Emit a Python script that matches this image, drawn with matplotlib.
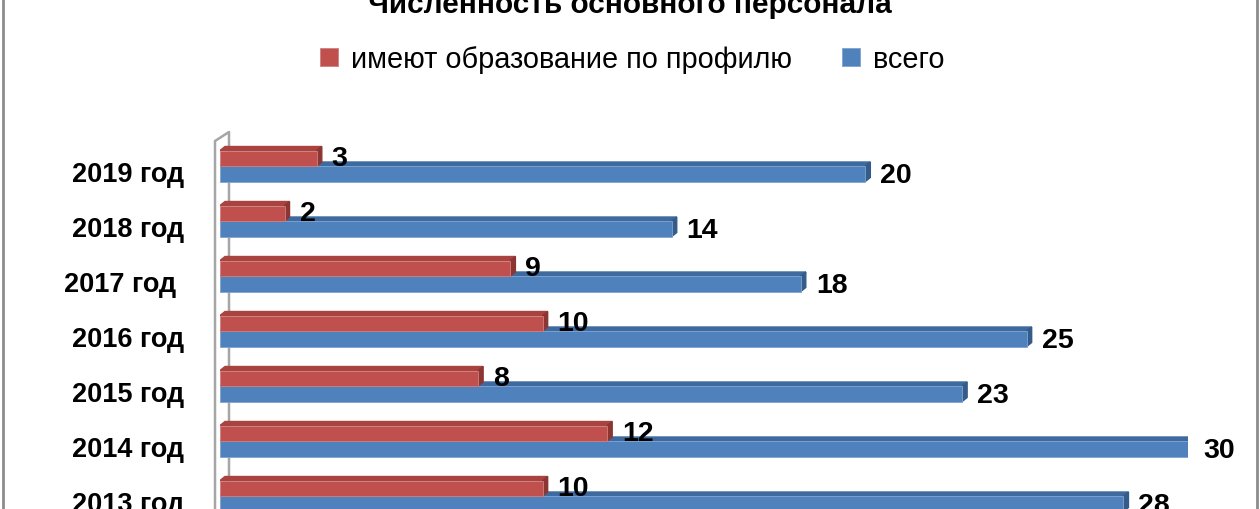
import matplotlib
matplotlib.use('Agg')
import matplotlib.pyplot as plt
from matplotlib.patches import Polygon
from matplotlib.lines import Line2D
import numpy as np

# ---- data ----
years = ['2013 год', '2014 год', '2015 год', '2016 год', '2017 год ', '2018 год', '2019 год']
profile = [10, 12, 8, 10, 9, 2, 3]
total = [28, 30, 23, 25, 18, 14, 20]
series_names = ['имеют образование по профилю', 'всего']
title = 'Численность основного персонала'

# ---- styling ----
W, H = 1260, 510
RED, RED_TOP, RED_SIDE = '#C0504D', '#A9433F', '#8C3633'
BLUE, BLUE_TOP, BLUE_SIDE = '#4F81BD', '#3E6AA0', '#345B8A'
LABEL_FONT = ['Liberation Sans', 'DejaVu Sans']
TITLE_FONT = ['Liberation Sans Narrow', 'Liberation Sans', 'DejaVu Sans']

fig = plt.figure(figsize=(W / 100, H / 100), dpi=100)
fig.patch.set_facecolor('white')
renderer = fig.canvas.get_renderer()


def fit_size(text, target_px, **kw):
    t = fig.text(0, 0, text, fontsize=10, **kw)
    w = t.get_window_extent(renderer).width
    t.remove()
    return 10 * target_px / w


# axes geometry (pixels)
X_LEFT, X_RIGHT = 220, 1188
XMAX = 30
Y_TOP = 133
ROW = 55
FIRST_BOUND = 167  # boundary of top row (index 6)
ytop = 6 + (FIRST_BOUND - Y_TOP) / ROW
ybot = -1.0
ax_h_px = (ytop - ybot) * ROW
ax = fig.add_axes([X_LEFT / W, (H - Y_TOP - ax_h_px) / H, (X_RIGHT - X_LEFT) / W, ax_h_px / H])
ax.set_xlim(0, XMAX)
ax.set_ylim(ybot, ytop)
for s in ax.spines.values():
    s.set_visible(False)
ax.set_xticks([])
ax.patch.set_alpha(0)

pxx = XMAX / (X_RIGHT - X_LEFT)   # data units per x pixel
pxy = 1 / ROW                      # data units per y pixel
DX, DY = 5 * pxx, 4 * pxy
BH = 15.5 * pxy

# wall lines
wx1, wx2 = -5 * pxx, 9 * pxx
ax.plot([wx1, wx1, wx2, wx2], [ybot - 1, ytop - 9 * pxy, ytop, ybot - 1],
        color='#A6A6A6', lw=1.8, clip_on=False, zorder=0.5)

pos = np.arange(len(years))

# blue (total) bars
bl = ax.barh(pos - BH, total, height=BH, left=0, align='edge', color=BLUE,
             edgecolor='#7FA3D0', linewidth=0.6, zorder=2, label=series_names[1])
for c, v in zip(pos, total):
    ax.add_patch(Polygon([(0, c), (v, c), (v + DX, c + DY), (DX, c + DY)],
                         closed=True, color=BLUE_TOP, zorder=1.9))
    ax.add_patch(Polygon([(v, c - BH), (v, c), (v + DX, c + DY), (v + DX, c - BH + DY)],
                         closed=True, color=BLUE_SIDE, zorder=1.9))

# red (profile) bars
rd = ax.barh(pos, profile, height=BH, left=0, align='edge', color=RED,
             edgecolor='#D07F7D', linewidth=0.6, zorder=4, label=series_names[0])
for c, v in zip(pos, profile):
    ax.add_patch(Polygon([(0, c + BH), (v, c + BH), (v + DX, c + BH + DY), (DX, c + BH + DY)],
                         closed=True, color=RED_TOP, zorder=3.9))
    ax.add_patch(Polygon([(v, c), (v, c + BH), (v + DX, c + BH + DY), (v + DX, c + DY)],
                         closed=True, color=RED_SIDE, zorder=3.9))

# value labels
VAL_FS = 20.5
for c, v in zip(pos, total):
    ax.annotate(str(v), xy=(v, c - BH / 2), xytext=(15, -1), textcoords='offset pixels',
                ha='left', va='center', fontsize=VAL_FS, fontweight='bold',
                family=LABEL_FONT, annotation_clip=False, zorder=6)
for c, v in zip(pos, profile):
    ax.annotate(str(v), xy=(v, c + BH / 2), xytext=(15, 0), textcoords='offset pixels',
                ha='left', va='center', fontsize=VAL_FS, fontweight='bold',
                family=LABEL_FONT, annotation_clip=False, zorder=6)

# year tick labels
LABEL_SHIFT = 5 * pxy
ax.set_yticks(pos - LABEL_SHIFT, labels=years)
ax.tick_params(axis='y', length=0, pad=26)
for lbl in ax.get_yticklabels():
    lbl.set_fontsize(19.5)
    lbl.set_fontweight('bold')
    lbl.set_family(LABEL_FONT)

# title (top partially cut)
tfs = fit_size(title, 520, fontweight='bold', family=TITLE_FONT)
fig.text(630 / W, 1 - 13 / H, title, ha='center', va='baseline', fontsize=tfs,
         fontweight='bold', family=TITLE_FONT)

# legend
lfs_px = fit_size(series_names[0], 443, family=LABEL_FONT) * 100 / 72
lfs = lfs_px * 72 / 100
leg = fig.legend([rd, bl], series_names, loc='center', bbox_to_anchor=(632 / W, 1 - 60 / H),
                 ncol=2, frameon=False, borderpad=0, fontsize=lfs,
                 prop={'family': LABEL_FONT, 'size': lfs},
                 handlelength=18 / lfs_px, handleheight=16 / lfs_px,
                 handletextpad=13 / lfs_px, columnspacing=50 / lfs_px)

# outer frame (left/right edges visible)
for xp in (3, 1257):
    fig.add_artist(Line2D([xp / W, xp / W], [0, 1], transform=fig.transFigure,
                          color='#8C8C8C', lw=2))

fig.savefig('out.png', dpi=100, facecolor='white')
